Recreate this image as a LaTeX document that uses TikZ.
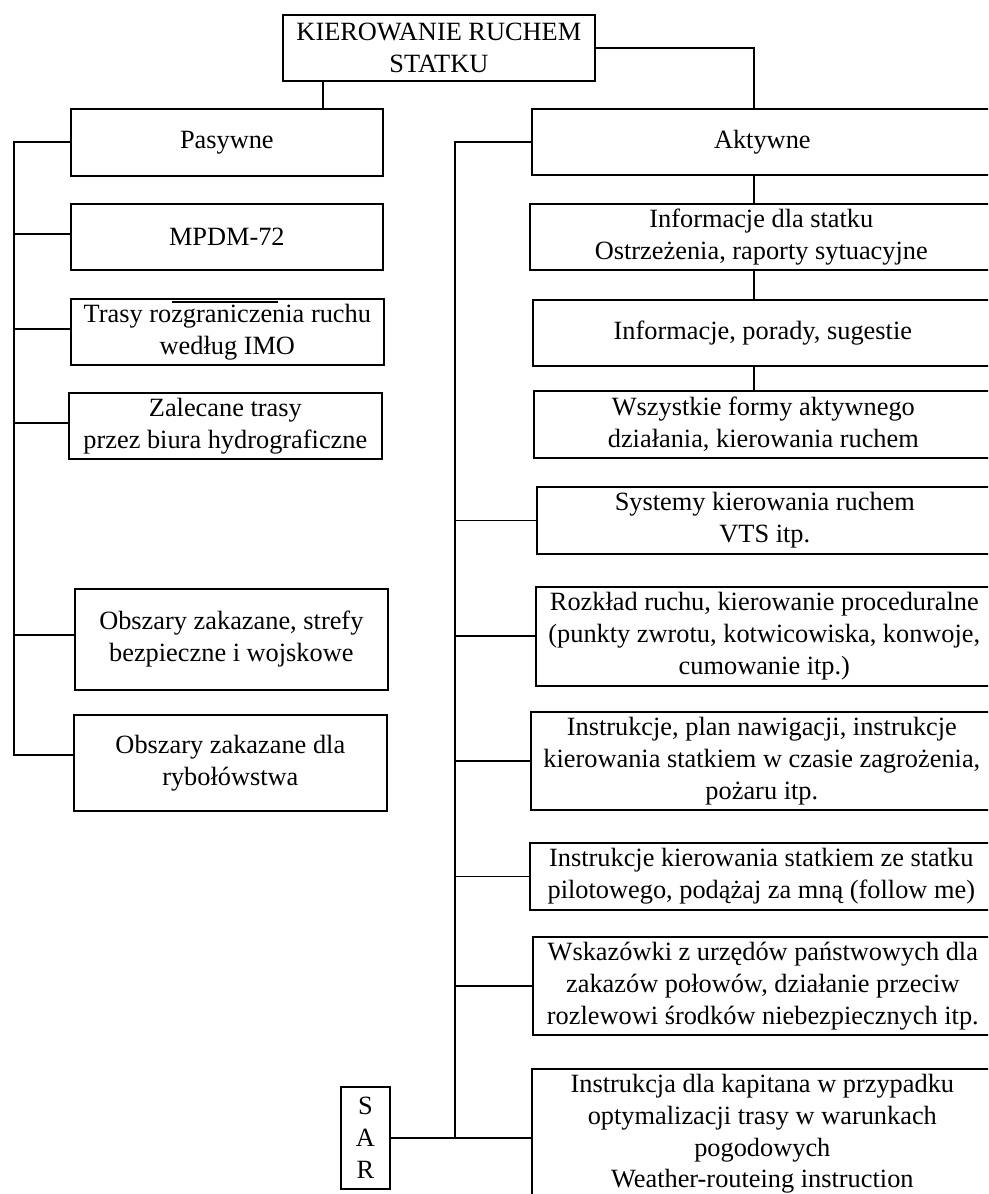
\documentclass[tikz,border=0pt]{standalone}
\usepackage{fontspec}
\setmainfont{Liberation Serif}
\usetikzlibrary{positioning, calc}

\begin{document}
\begin{tikzpicture}[
  x=0.02cm, y=-0.02cm,
  box/.style={draw, line width=1pt, anchor=north west, align=center,
              inner sep=2pt, font=\fontsize{15pt}{18.1pt}\selectfont},
  conn/.style={line width=1pt}
]
  \useasboundingbox (0,0) rectangle (988,1194);
  \clip (0,0) rectangle (988,1194);

  % Root
  \node[box, minimum width=6.24cm, minimum height=1.32cm] (kier) at (282,14)
    {KIEROWANIE RUCHEM\\STATKU};

  % Passive side
  \node[box, minimum width=6.24cm, minimum height=1.34cm] (pas) at (70,108) {Pasywne};
  \node[box, minimum width=6.24cm, minimum height=1.32cm] (mpdm) at (70,203) {MPDM-72};
  \node[box, minimum width=6.26cm, minimum height=1.32cm] (trasy) at (70,298)
    {Trasy rozgraniczenia ruchu\\według IMO};
  \node[box, minimum width=6.26cm, minimum height=1.32cm] (zal) at (68,392)
    {Zalecane trasy\\przez biura hydrograficzne};
  \node[box, minimum width=6.26cm, minimum height=2.02cm] (obsz) at (74,588)
    {Obszary zakazane, strefy\\bezpieczne i wojskowe};
  \node[box, minimum width=6.26cm, minimum height=1.92cm] (ryb) at (73,714)
    {Obszary zakazane dla\\rybołówstwa};

  % Active side
  \node[box, minimum width=9.22cm, minimum height=1.32cm] (akt) at (531,108) {Aktywne};
  \node[box, minimum width=9.26cm, minimum height=1.32cm] (infs) at (529,203)
    {Informacje dla statku\\Ostrzeżenia, raporty sytuacyjne};
  \node[box, minimum width=9.20cm, minimum height=1.32cm] (por) at (532,299)
    {Informacje, porady, sugestie};
  \node[box, minimum width=9.18cm, minimum height=1.34cm] (wsz) at (533,390)
    {Wszystkie formy aktywnego\\działania, kierowania ruchem};
  \node[box, minimum width=9.12cm, minimum height=1.34cm] (sys) at (536,486)
    {Systemy kierowania ruchem\\VTS itp.};
  \node[box, minimum width=9.14cm, minimum height=1.98cm] (roz) at (535,586)
    {Rozkład ruchu, kierowanie proceduralne\\(punkty zwrotu, kotwicowiska, konwoje,\\cumowanie itp.)};
  \node[box, minimum width=9.24cm, minimum height=1.96cm] (plan) at (530,711)
    {Instrukcje, plan nawigacji, instrukcje\\kierowania statkiem w czasie zagrożenia,\\pożaru itp.};
  \node[box, minimum width=9.26cm, minimum height=1.34cm] (pil) at (529,842)
    {Instrukcje kierowania statkiem ze statku\\pilotowego, podążaj za mną (follow me)};
  \node[box, minimum width=9.20cm, minimum height=1.96cm] (wsk) at (532,936)
    {Wskazówki z urzędów państwowych dla\\zakazów połowów, działanie przeciw\\rozlewowi środków niebezpiecznych itp.};
  \node[box, minimum width=9.22cm, minimum height=2.6cm] (kap) at (531,1068)
    {Instrukcja dla kapitana w przypadku\\optymalizacji trasy w warunkach\\pogodowych\\Weather-routeing instruction};
  \node[box, minimum width=0.98cm, minimum height=2.04cm] (sar) at (340,1086) {S\\A\\R};

  % Spines
  \coordinate (lsp) at (14,0);
  \coordinate (rsp) at (455,0);
  \coordinate (kp) at ([xshift=0.82cm]kier.south west);
  \coordinate (ka) at ([xshift=4.46cm]akt.north west);
  \coordinate (mpdm-in) at ([yshift=0.06cm]mpdm.west);
  \coordinate (trasy-in) at ([yshift=0.06cm]trasy.west);
  \coordinate (zal-in) at ([yshift=0.06cm]zal.west);
  \coordinate (obsz-in) at ([yshift=0.09cm]obsz.west);
  \coordinate (ryb-in) at ([yshift=0.16cm]ryb.west);

  % Root links
  \draw[conn] (kp) -- (kp |- pas.north);
  \draw[conn] (kier.east) -| (ka);

  % Active chain
  \draw[conn] (ka |- akt.south) -- (ka |- infs.north);
  \draw[conn] (ka |- infs.south) -- (ka |- por.north);
  \draw[conn] (ka |- por.south) -- (ka |- wsz.north);

  % Left spine
  \draw[conn] (pas.west) -| (lsp |- ryb-in) -- (ryb-in);
  \foreach \n in {mpdm, trasy, zal, obsz}
    \draw[conn] (\n-in) -- (lsp |- \n-in);

  % Right spine
  \draw[conn] (akt.west) -| (rsp |- sar.east);
  \foreach \n in {sys, roz, plan, pil, wsk}
    \draw[conn] (\n.west) -- (rsp |- \n.west);
  \draw[conn] (sar.east) -- (sar.east -| kap.west);

  % stray rule over the IMO box
  \draw[line width=0.8pt] ([shift={(2.04cm,-0.08cm)}]trasy.north west) -- ++(2.12cm,0);
\end{tikzpicture}
\end{document}
